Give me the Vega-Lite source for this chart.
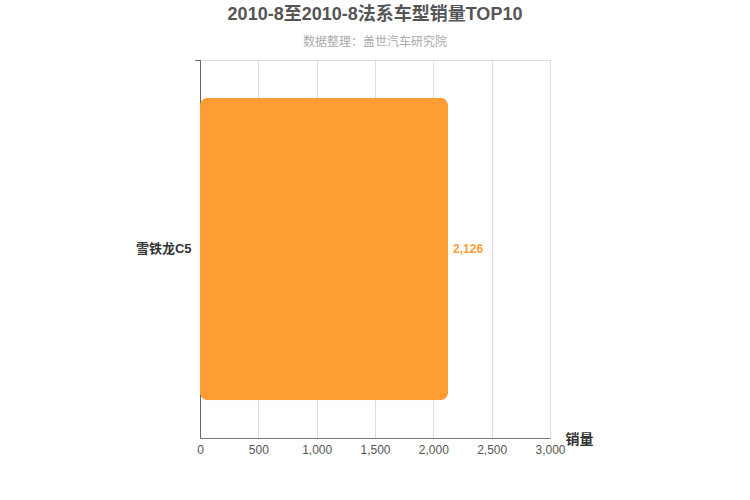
{
  "$schema": "https://vega.github.io/schema/vega-lite/v6.json",
  "autosize": "none",
  "padding": {"left": 200, "top": 60, "right": 200, "bottom": 62},
  "width": 350,
  "height": 378,
  "data": {
    "values": [
      {"车型": "雪铁龙C5", "销量": 2126}
    ]
  },
  "title": {
    "text": "2010-8至2010-8法系车型销量TOP10",
    "subtitle": "数据整理：盖世汽车研究院",
    "anchor": "middle",
    "fontSize": 18,
    "fontWeight": "bold",
    "color": "#555555",
    "subtitleFontSize": 12,
    "subtitleColor": "#aaaaaa",
    "subtitlePadding": 13,
    "offset": 6
  },
  "encoding": {
    "y": {
      "field": "车型",
      "type": "nominal",
      "scale": {"paddingInner": 0, "paddingOuter": 0},
      "axis": {
        "title": null,
        "bandPosition": 0,
        "tickExtra": true,
        "grid": true,
        "gridColor": "#dddddd",
        "domainColor": "#666666",
        "tickColor": "#666666",
        "tickSize": 5,
        "labelColor": "#333333",
        "labelFontSize": 13,
        "labelFontWeight": "bold",
        "labelPadding": 4
      }
    },
    "x": {
      "field": "销量",
      "type": "quantitative",
      "scale": {"domain": [0, 3000]},
      "axis": {
        "values": [0, 500, 1000, 1500, 2000, 2500, 3000],
        "format": ",d",
        "labelFlush": false,
        "title": "销量",
        "titleAngle": 0,
        "titleAlign": "left",
        "titleBaseline": "middle",
        "titleX": 365,
        "titleY": 1,
        "titleFontSize": 14,
        "titleFontWeight": "bold",
        "titleColor": "#333333",
        "grid": true,
        "gridColor": "#dddddd",
        "ticks": false,
        "domainColor": "#777777",
        "labelColor": "#555555",
        "labelFontSize": 12,
        "labelPadding": 6
      }
    }
  },
  "layer": [
    {
      "mark": {"type": "bar", "color": "#ff9d35", "cornerRadius": 8, "height": {"band": 0.8}}
    },
    {
      "mark": {
        "type": "text",
        "align": "left",
        "dx": 5,
        "color": "#ff9d35",
        "fontSize": 12,
        "fontWeight": "bold"
      },
      "encoding": {
        "text": {"field": "销量", "type": "quantitative", "format": ",d"}
      }
    }
  ],
  "config": {
    "font": "Liberation Sans, Noto Sans CJK SC",
    "view": {"stroke": null}
  }
}
